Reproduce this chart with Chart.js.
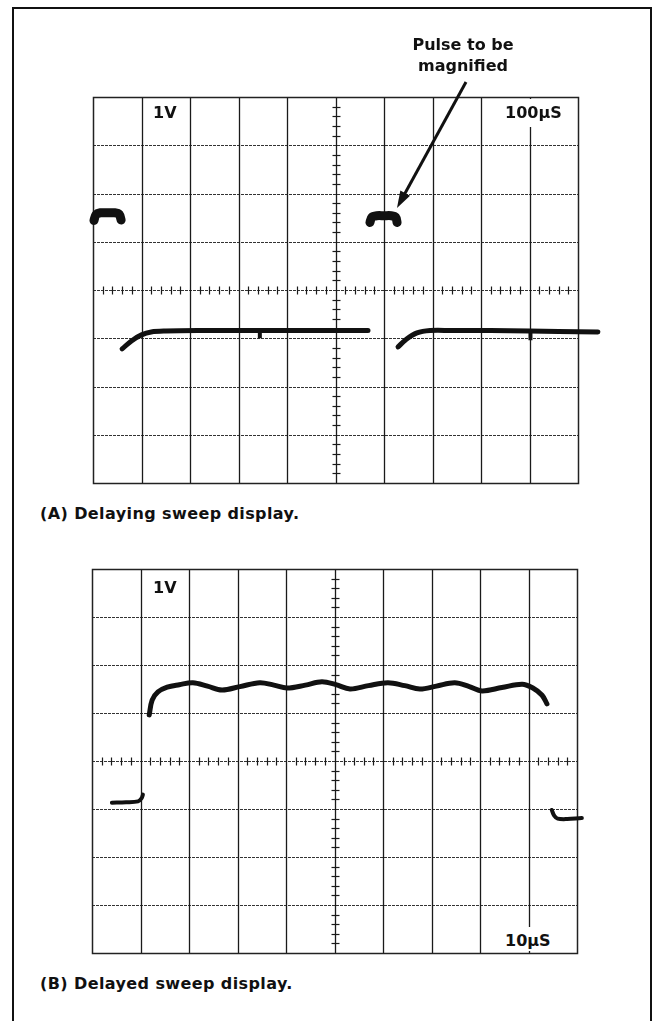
<!DOCTYPE html>
<html>
<head>
<meta charset="utf-8">
<script src="https://cdn.jsdelivr.net/npm/chart.js@4.4.1/dist/chart.umd.min.js"></script>
<style>
    html, body { margin: 0; padding: 0; background: #fff; }
    body { width: 658px; height: 1021px; position: relative; overflow: hidden;
           font-family: "DejaVu Sans", sans-serif; font-weight: bold; color: #111; }
    .frame { position: absolute; left: 12px; top: 7px; width: 640px; height: 1030px;
             border: 2px solid #111; box-sizing: border-box; }
    canvas { position: absolute; }
    .lbl { position: absolute; font-size: 16px; line-height: 16px; white-space: nowrap; }
    .box { background: #fff; height: 28px; padding-left: 2px; padding-right: 4px; }
    .note { position: absolute; left: 363px; top: 34px; width: 200px; text-align: center;
            font-size: 16px; line-height: 21px; }
    .cap { position: absolute; left: 40px; font-size: 16px; line-height: 16px; letter-spacing: 0.4px; }
    svg { position: absolute; left: 0; top: 0; }
</style>
</head>
<body id="body">
<div class="frame"></div>

<canvas id="chartA" width="540" height="412" style="left:80px; top:84px;"></canvas>
<canvas id="chartB" width="540" height="410" style="left:79px; top:556px;"></canvas>

<div class="lbl" style="left:153px; top:105px;">1V</div>
<div class="lbl box" style="left:503px; top:99px; padding-top:6px; height:22px;">100µS</div>
<div class="note">Pulse to be<br>magnified</div>
<div class="cap" style="top:506px;">(A) Delaying sweep display.</div>

<div class="lbl" style="left:153px; top:580px;">1V</div>
<div class="lbl box" style="left:503px; top:927px; padding-top:6px; height:18px;">10µS</div>
<div class="cap" style="top:976px;">(B) Delayed sweep display.</div>

<svg id="arrow" width="658" height="1021"></svg>

<script>
"use strict";

// graticule: 10 x 8 divisions, centre lines carry 5 minor ticks per division
const xDivs = 10;
const yDivs = 8;
const minorPerDiv = 5;

// (A) delaying sweep, 100uS/div, 1V/div
const pulseA1X = [0.02, 0.06, 0.15, 0.3, 0.45, 0.54, 0.58];
const pulseA1Y = [1.44, 1.56, 1.6, 1.6, 1.6, 1.57, 1.45];
const pulseA2X = [5.71, 5.75, 5.85, 6.0, 6.15, 6.24, 6.27];
const pulseA2Y = [1.4, 1.51, 1.54, 1.54, 1.54, 1.51, 1.4];
const baseA1X = [0.6, 0.8, 1.0, 1.2, 1.5, 2.2, 3.0, 3.44, 4.2, 5.0, 5.67];
const baseA1Y = [-1.22, -1.05, -0.93, -0.87, -0.85, -0.84, -0.84, -0.84, -0.84, -0.84, -0.84];
const baseA2X = [6.29, 6.45, 6.68, 6.95, 7.4, 8.2, 9.0, 9.6, 10.41];
const baseA2Y = [-1.18, -1.03, -0.89, -0.84, -0.84, -0.84, -0.85, -0.86, -0.87];
const notchAX = [3.44, 9.02];
const notchAY = [-1.0, -1.04];

// (B) delayed sweep, 10uS/div, 1V/div
const baseB1X = [0.41, 0.7, 0.95, 1.02, 1.05];
const baseB1Y = [-0.87, -0.86, -0.84, -0.78, -0.7];
const mainBX = [1.18, 1.24, 1.36, 1.55, 1.8, 2.08, 2.38, 2.68, 3.05, 3.46, 3.75, 4.02, 4.4, 4.74,
                5.03, 5.32, 5.7, 6.1, 6.45, 6.76, 7.1, 7.48, 7.78, 8.04, 8.45, 8.87, 9.09, 9.28, 9.38];
const mainBY = [0.96, 1.27, 1.44, 1.54, 1.59, 1.63, 1.56, 1.48, 1.55, 1.63, 1.58, 1.52, 1.58, 1.65,
                1.59, 1.5, 1.57, 1.63, 1.57, 1.5, 1.56, 1.63, 1.55, 1.46, 1.53, 1.6, 1.52, 1.37, 1.19];
const baseB2X = [9.48, 9.53, 9.6, 9.8, 10.1, 10.47];
const baseB2Y = [-1.02, -1.14, -1.2, -1.21, -1.19, -1.18];


function toPoints(xs, ys){
    return xs.map((x, i) => ({x: x, y: ys[i]}));
}

function trace(xs, ys, width, tension){
    return {
        data: toPoints(xs, ys),
        borderColor: "#111",
        borderWidth: width,
        pointRadius: 0,
        tension: tension === undefined ? 0.35 : tension,
        borderCapStyle: "round",
        borderJoinStyle: "round",
        clip: false
    };
}

// little downward blips on the baseline: one short vertical stroke each
function notches(xs, ys, level){
    return xs.map((x, i) => ({
        data: [{x: x, y: level}, {x: x, y: ys[i]}],
        borderColor: "#111",
        borderWidth: 4,
        pointRadius: 0,
        borderCapStyle: "butt",
        clip: false
    }));
}

// draws the scope graticule from the chart's own scales
const graticule = {
    id: "graticule",
    beforeDatasetsDraw(chart){
        const ctx = chart.ctx;
        const xs = chart.scales.x;
        const ys = chart.scales.y;
        const left = xs.getPixelForValue(0), right = xs.getPixelForValue(xDivs);
        const top = ys.getPixelForValue(yDivs / 2), bottom = ys.getPixelForValue(-yDivs / 2);
        ctx.save();

        ctx.strokeStyle = "#333";
        ctx.lineWidth = 1;
        ctx.setLineDash([3, 1]);
        for(let j = -yDivs / 2 + 1; j < yDivs / 2; j++){
            const py = Math.round(ys.getPixelForValue(j)) + 0.5;
            ctx.beginPath(); ctx.moveTo(left, py); ctx.lineTo(right, py); ctx.stroke();
        }
        ctx.setLineDash([]);
        ctx.strokeStyle = "#1a1a1a";
        ctx.lineWidth = 1.3;
        for(let i = 1; i < xDivs; i++){
            const px = Math.round(xs.getPixelForValue(i)) + 0.5;
            ctx.beginPath(); ctx.moveTo(px, top); ctx.lineTo(px, bottom); ctx.stroke();
        }

        // minor ticks on the centre lines
        ctx.lineWidth = 1.2;
        const cx = Math.round(xs.getPixelForValue(xDivs / 2)) + 0.5;
        const cy = Math.round(ys.getPixelForValue(0)) + 0.5;
        for(let k = 1; k < xDivs * minorPerDiv; k++){
            if(k % minorPerDiv === 0) continue;
            const px = Math.round(xs.getPixelForValue(k / minorPerDiv)) + 0.5;
            ctx.beginPath(); ctx.moveTo(px, cy - 4); ctx.lineTo(px, cy + 4); ctx.stroke();
        }
        for(let k = 1; k < yDivs * minorPerDiv; k++){
            if(k % minorPerDiv === 0) continue;
            const py = Math.round(ys.getPixelForValue(-yDivs / 2 + k / minorPerDiv)) + 0.5;
            ctx.beginPath(); ctx.moveTo(cx - 4, py); ctx.lineTo(cx + 4, py); ctx.stroke();
        }

        ctx.strokeStyle = "#222";
        ctx.lineWidth = 1.5;
        ctx.strokeRect(Math.round(left) + 0.5, Math.round(top) + 0.5,
                       Math.round(right - left), Math.round(bottom - top));
        ctx.restore();
    }
};

function makeScope(canvasId, datasets, padding){
    return new Chart(document.getElementById(canvasId), {
        type: "line",
        data: { datasets: datasets },
        options: {
            responsive: false,
            animation: false,
            devicePixelRatio: 1,
            layout: { padding: padding },
            scales: {
                x: { type: "linear", min: 0, max: xDivs, display: false },
                y: { type: "linear", min: -yDivs / 2, max: yDivs / 2, display: false }
            },
            plugins: {
                legend: { display: false },
                tooltip: { enabled: false }
            }
        },
        plugins: [graticule]
    });
}

makeScope("chartA", [
    trace(pulseA1X, pulseA1Y, 9, 0.3),
    trace(pulseA2X, pulseA2Y, 9, 0.3),
    trace(baseA1X, baseA1Y, 5),
    trace(baseA2X, baseA2Y, 5),
    ...notches(notchAX, notchAY, -0.84)
], {left: 13, top: 13, right: 42, bottom: 13});

makeScope("chartB", [
    trace(baseB1X, baseB1Y, 4),
    trace(mainBX, mainBY, 5),
    trace(baseB2X, baseB2Y, 4)
], {left: 13, top: 13, right: 42, bottom: 13});


// pointer from the note to the pulse
const arrowFrom = [466, 82];
const arrowTo = [397, 208];
let svg = document.getElementById("arrow");
let dx = arrowTo[0] - arrowFrom[0], dy = arrowTo[1] - arrowFrom[1];
let len = Math.hypot(dx, dy);
let ux = dx / len, uy = dy / len;
let bx = arrowTo[0] - ux * 17, by = arrowTo[1] - uy * 17;
let shaft = document.createElementNS("http://www.w3.org/2000/svg", "line");
shaft.setAttribute("x1", arrowFrom[0]);
shaft.setAttribute("y1", arrowFrom[1]);
shaft.setAttribute("x2", bx + ux * 2);
shaft.setAttribute("y2", by + uy * 2);
shaft.setAttribute("stroke", "#111");
shaft.setAttribute("stroke-width", "3");
svg.appendChild(shaft);
let head = document.createElementNS("http://www.w3.org/2000/svg", "polygon");
head.setAttribute("points",
    arrowTo[0] + "," + arrowTo[1] + " " +
    (bx - uy * 5.5) + "," + (by + ux * 5.5) + " " +
    (bx + uy * 5.5) + "," + (by - ux * 5.5));
head.setAttribute("fill", "#111");
svg.appendChild(head);
</script>
</body>
</html>
